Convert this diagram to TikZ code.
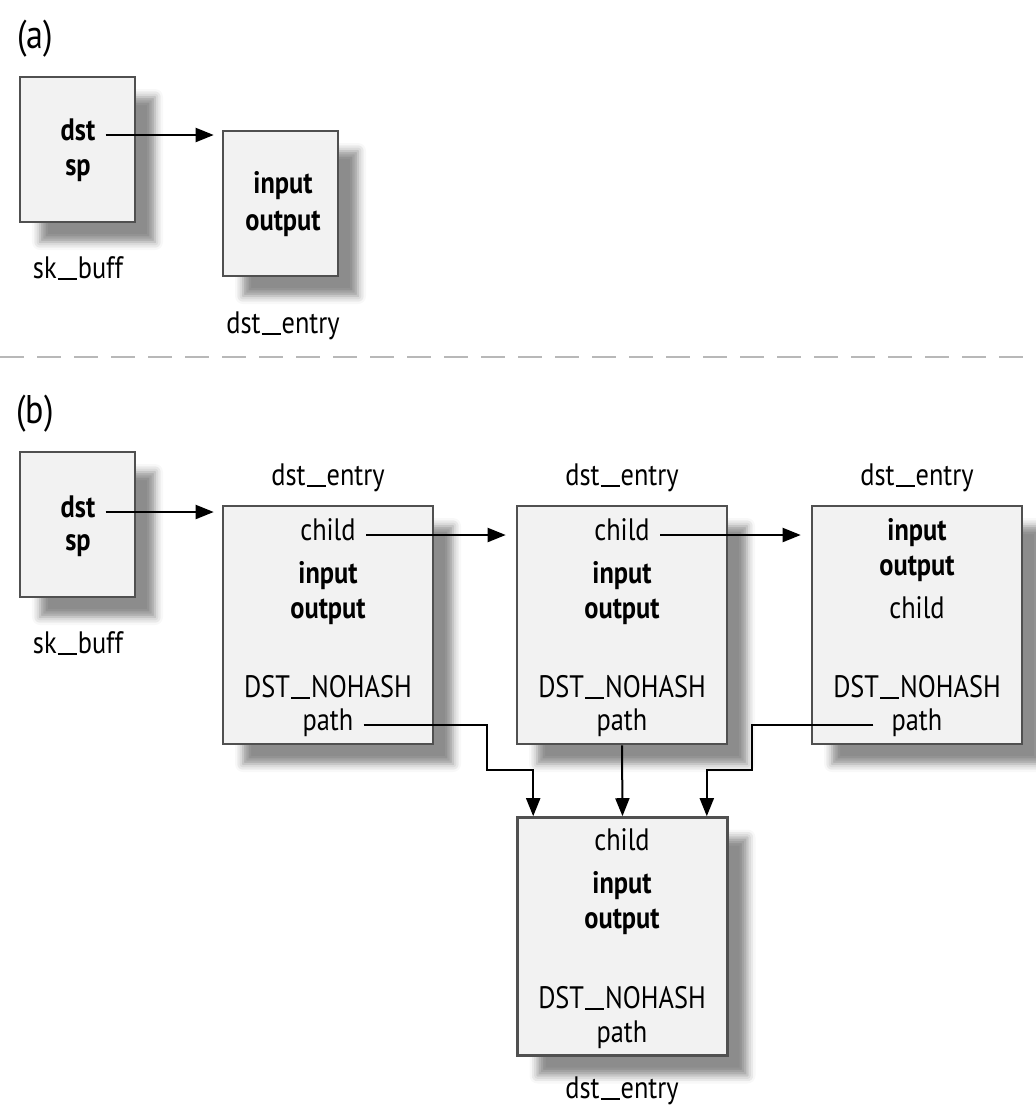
\documentclass[tikz,border=0pt]{standalone}
\usepackage{fontspec}
\setmainfont{PT Sans}[FakeStretch=0.85]
\usepackage{tikz}
\usetikzlibrary{arrows.meta, positioning, calc, shadows.blur}

\definecolor{boxfill}{HTML}{F2F2F2}
\definecolor{boxline}{HTML}{505050}
\definecolor{sepline}{HTML}{B8B8B8}

\newcommand\uscore{\kern0.03em\rule[-0.07em]{0.62em}{0.075em}\kern0.03em}

\begin{document}
\begin{tikzpicture}[x=0.5pt, y=-0.5pt,
  sbox/.style = {rectangle, draw=boxline, line width=1.3pt, fill=boxfill,
                 minimum width=57.5pt, minimum height=72.5pt,
                 blur shadow={shadow xshift=10pt, shadow yshift=-10pt,
                              shadow blur radius=4pt, shadow opacity=45}},
  ebox/.style = {sbox, minimum width=105pt, minimum height=119pt},
  fld/.style  = {anchor=base, inner xsep=5pt, inner ysep=1pt,
                 font=\fontsize{15.5}{18}\selectfont},
  bfld/.style = {fld, font=\fontsize{15.5}{18}\selectfont\bfseries},
  part/.style = {anchor=base, inner sep=0pt, font=\fontsize{20}{24}\selectfont},
  arr/.style  = {-{Triangle[length=9pt, width=7pt]}, line width=1pt, black},
  sep/.style  = {draw=sepline, line width=1.3pt, dash pattern=on 12pt off 6.5pt},
]
  \useasboundingbox (0,0) rectangle (1035,1109);

  % (a) ---------------------------------------------------------
  \node[part] (parta) at (35,48) {(a)};

  \node[sbox]  (skbA)   at (77.5,149.5) {};
  \node[bfld]  (dstA)   at (78,140) {dst};
  \node[bfld]  (spA)    at (78,175) {sp};
  \node[fld]   (skbLblA) at (78,278) {sk\uscore buff};

  \node[sbox]  (entryA) at (280.5,203.5) {};
  \node[bfld]  (inA)    at (283,193) {input};
  \node[bfld]  (outA)   at (283,230) {output};
  \node[fld]   (entLblA) at (283,333) {dst\uscore entry};

  \draw[arr, shorten >=4pt] (dstA.mid east) -- (dstA.mid east -| entryA.west);

  % separator
  \coordinate (sepL) at (0,357);
  \coordinate (sepR) at (1035,357);
  \draw[sep] (sepL) -- (sepR);

  % (b) ---------------------------------------------------------
  \node[part] (partb) at (35,423) {(b)};

  \node[sbox]  (skbB)   at (77.5,524.5) {};
  \node[bfld]  (dstB)   at (78,517) {dst};
  \node[bfld]  (spB)    at (78,550) {sp};
  \node[fld]   (skbLblB) at (78,653) {sk\uscore buff};

  % first dst_entry
  \node[ebox]  (entry1) at (328,625) {};
  \node[fld]   (lbl1)   at (328,485) {dst\uscore entry};
  \node[fld]   (child1) at (328,540) {child};
  \node[bfld]  (in1)    at (328,583) {input};
  \node[bfld]  (out1)   at (328,618) {output};
  \node[fld]   (flag1)  at (328,697) {DST\uscore NOHASH};
  \node[fld]   (path1)  at (328,730) {path};

  % second dst_entry
  \node[ebox]  (entry2) at (622,625) {};
  \node[fld]   (lbl2)   at (622,485) {dst\uscore entry};
  \node[fld]   (child2) at (622,540) {child};
  \node[bfld]  (in2)    at (622,583) {input};
  \node[bfld]  (out2)   at (622,618) {output};
  \node[fld]   (flag2)  at (622,697) {DST\uscore NOHASH};
  \node[fld]   (path2)  at (622,730) {path};

  % third dst_entry
  \node[ebox]  (entry3) at (917,625) {};
  \node[fld]   (lbl3)   at (917,485) {dst\uscore entry};
  \node[bfld]  (in3)    at (917,540) {input};
  \node[bfld]  (out3)   at (917,575) {output};
  \node[fld]   (child3) at (917,618) {child};
  \node[fld]   (flag3)  at (917,697) {DST\uscore NOHASH};
  \node[fld]   (path3)  at (917,730) {path};

  % shared dst_entry
  \node[ebox]  (entry4) at (622.5,936.5) {};
  \node[fld]   (child4) at (622,850) {child};
  \node[bfld]  (in4)    at (622,893) {input};
  \node[bfld]  (out4)   at (622,928) {output};
  \node[fld]   (flag4)  at (622,1008) {DST\uscore NOHASH};
  \node[fld]   (path4)  at (622,1042) {path};
  \node[fld]   (lbl4)   at (622,1098) {dst\uscore entry};

  \coordinate (j1) at (487,770);
  \coordinate (j3) at (752,770);

  \draw[arr, shorten >=4pt] (dstB.mid east) -- (dstB.mid east -| entry1.west);
  \draw[arr, shorten >=5pt] (child1.mid east) -- (child1.mid east -| entry2.west);
  \draw[arr, shorten >=5pt] (child2.mid east) -- (child2.mid east -| entry3.west);

  \draw[arr] (path1.mid east) -| (j1) -| ($(entry4.north west)+(17,0)$);
  \draw[arr] (entry2.south) -- (entry4.north);
  \draw[arr, shorten <=4pt] (path3.mid west) -| (j3) -| ($(entry4.north east)+(-22,0)$);
\end{tikzpicture}
\end{document}
